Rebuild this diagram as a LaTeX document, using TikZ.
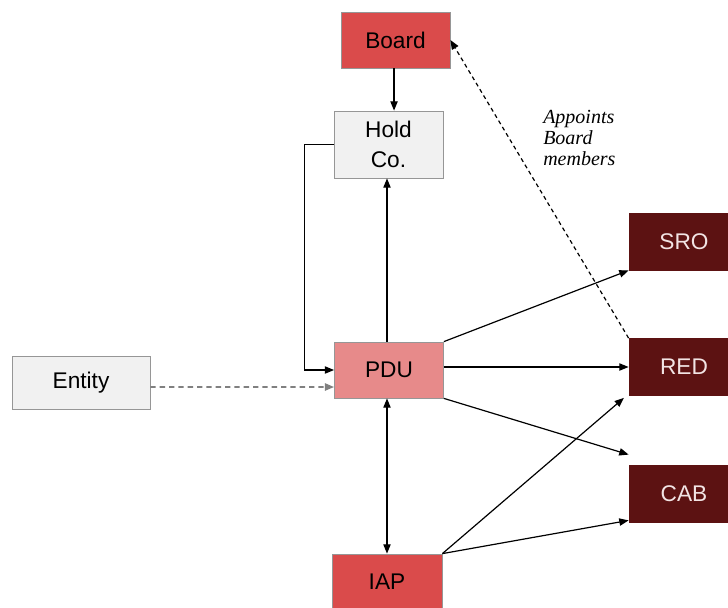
\documentclass[tikz,border=0pt]{standalone}
\usepackage{fontspec}
\setmainfont{Liberation Sans}
\newfontfamily\notefont{Liberation Serif}
\usetikzlibrary{arrows.meta}
\definecolor{boardred}{RGB}{218,75,75}
\definecolor{pdupink}{RGB}{231,138,138}
\definecolor{darkred}{RGB}{92,18,18}
\definecolor{paleface}{RGB}{241,241,241}
\definecolor{edgegrey}{RGB}{150,150,150}
\definecolor{palefont}{RGB}{242,228,228}
\tikzset{
 unit/.style={draw=edgegrey, line width=0.6pt, inner sep=0pt,
  minimum width=81.75pt, minimum height=42pt,
  font=\fontsize{17}{23}\selectfont, align=center},
 redunit/.style={unit, fill=boardred},
 greyunit/.style={unit, fill=paleface},
 subunit/.style={unit, fill=darkred, draw=darkred, text=palefont,
  minimum width=82.5pt, minimum height=42.75pt},
 link/.style={line width=0.9pt, -{Triangle[length=7pt,width=5.5pt]}},
}
\begin{document}
\begin{tikzpicture}[x=0.75pt, y=-0.75pt]
 \useasboundingbox (0,0) rectangle (728,607);
 % main units
 \node[redunit] (Board) at (395.5,40) {Board};
 \node[greyunit, minimum height=50.25pt] (HoldCo) at (388.5,144.5) {Hold\\Co.};
 \node[unit, fill=pdupink] (PDU) at (389,370) {PDU};
 \node[greyunit, minimum width=103.5pt, minimum height=39.75pt] (Entity) at (81,382.5) {Entity};
 \node[redunit, minimum width=82.5pt] (IAP) at (387,582) {IAP};
 % sub units on the right
 \node[subunit] (SRO) at (684,241.5) {SRO};
 \node[subunit] (RED) at (684,367) {RED};
 \node[subunit] (CAB) at (684,493.5) {CAB};
 \node[font=\notefont\itshape\fontsize{15}{15.75}\selectfont, align=left, anchor=north west, inner sep=0pt] (Note) at (543,110) {Appoints\\Board\\members};

 \draw[link] ([xshift=-1.1pt]Board.south) -- ([xshift=-1.1pt]Board.south |- HoldCo.north);
 \draw[link] ([xshift=-1.5pt]PDU.north) -- ([xshift=-1.5pt]PDU.north |- HoldCo.south);
 \draw[link] (HoldCo.west) -- ++(-29,0) |- (PDU.west);
 \draw[link, draw=gray, dash pattern=on 4pt off 3pt, line width=1.4pt] ([yshift=-3.4pt]Entity.east) -- ([yshift=-12.75pt]PDU.west);
 \draw[link, {Triangle[length=7pt,width=5.5pt]}-{Triangle[length=7pt,width=5.5pt]}] (IAP.north) -- (IAP.north |- PDU.south);
 \draw[link] (PDU.north east) -- (SRO.south west);
 \draw[link] ([yshift=2.25pt]PDU.east) -- (RED.west);
 \draw[link] (PDU.south east) -- ([yshift=7.5pt]CAB.north west);
 \draw[link] (IAP.north east) -- ([shift={(-3.5pt,-1.5pt)}]RED.south west);
 \draw[link] (IAP.north east) -- ([yshift=1.5pt]CAB.south west);
 \draw[link, dash pattern=on 3pt off 2.5pt] (RED.north west) -- (Board.east);
\end{tikzpicture}
\end{document}
